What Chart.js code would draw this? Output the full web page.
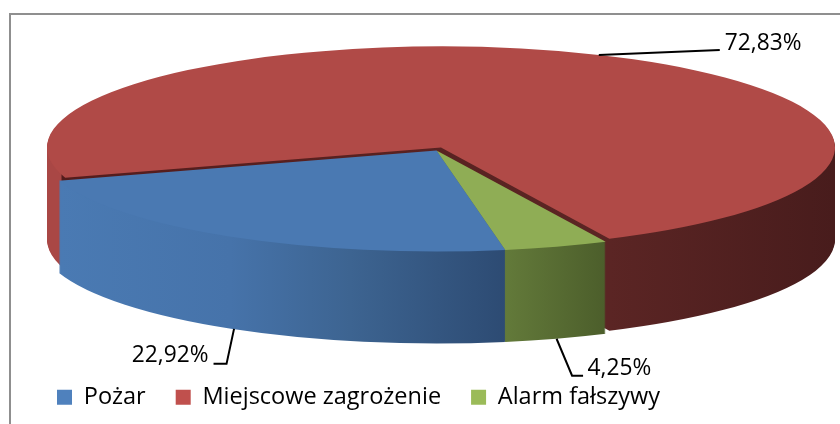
<!DOCTYPE html>
<html>
<head>
<meta charset="utf-8">
<style>
html,body{margin:0;padding:0;background:#fff;}
#wrap{position:relative;width:840px;height:424px;}
canvas{display:block;}
</style>
<script src="https://cdn.jsdelivr.net/npm/chart.js@4/dist/chart.umd.min.js"></script>
</head>
<body>
<div id="wrap"><canvas id="c" width="840" height="424"></canvas></div>
<script>
const categories = ["Pożar", "Miejscowe zagrożenie", "Alarm fałszywy"];
const values = [22.92, 72.83, 4.25];
const topColors = ["#4a79b2", "#b04a47", "#8fad55"];
const legendColors = ["#4f81bd", "#c0504d", "#9bbb59"];

const FONT = '"Open Sans", sans-serif';
const DEPTH = 92;
// ellipse of each slice on screen: centre and radii
const ellipses = [
  {cx: 436.5, cy: 150.5, rx: 396, ry: 101},
  {cx: 441, cy: 147.5, rx: 394, ry: 101},
  {cx: 436.5, cy: 150.5, rx: 396, ry: 101}
];
// wall gradients, as [screen x, colour]
const wallStops = [
  [[60, "#4a7ab3"], [230, "#4673aa"], [350, "#3d6491"], [505, "#2d4b73"]],
  [[47, "#a94745"], [61, "#a94745"], [62, "#541c1c"], [609, "#5b2524"], [835, "#481c1c"]],
  [[505, "#637a3a"], [605, "#4c5e2b"]]
];
// label layout relative to the slice's mid-angle rim point
const labelLayout = [
  {onWall: true,  start: [3, 0], elbow: [[-4.5, 35], [-17.5, 35]], text: [-22.5, 27], align: "right"},
  {onWall: false, start: [0, 0], elbow: [[121, -5]],               text: [126, -11],  align: "left"},
  {onWall: true,  start: [0, 0], elbow: [[15.5, 37], [26.5, 37]],  text: [31, 30],    align: "left"}
];

function place(ctx, arc, e, dy) {
  const s = arc.outerRadius;
  ctx.translate(e.cx, e.cy + dy);
  ctx.scale(e.rx / s, e.ry / s);
  ctx.translate(-arc.x, -arc.y);
}

function wallGradient(ctx, arc, i) {
  const e = ellipses[i], stops = wallStops[i];
  const toArc = X => arc.x + (X - e.cx) * arc.outerRadius / e.rx;
  const x0 = stops[0][0], x1 = stops[stops.length - 1][0];
  const g = ctx.createLinearGradient(toArc(x0), 0, toArc(x1), 0);
  stops.forEach(s => g.addColorStop((s[0] - x0) / (x1 - x0), s[1]));
  return g;
}

function drawSlice(ctx, arc, i, dy, fill) {
  const saved = arc.options;
  arc.options = Object.assign({}, saved, {backgroundColor: fill, borderWidth: 0});
  ctx.save();
  place(ctx, arc, ellipses[i], dy);
  arc.draw(ctx);
  ctx.restore();
  arc.options = saved;
}

const pie3d = {
  id: "pie3d",
  beforeDraw(chart) {
    const ctx = chart.ctx;
    ctx.save();
    ctx.strokeStyle = "#8f8f8f";
    ctx.lineWidth = 2;
    ctx.beginPath();
    ctx.moveTo(10, chart.height);
    ctx.lineTo(10, 14);
    ctx.lineTo(chart.width, 14);
    ctx.stroke();
    ctx.restore();
  },
  beforeDatasetsDraw(chart) {
    const ctx = chart.ctx;
    const arcs = chart.getDatasetMeta(0).data;
    const wall = i => {
      const g = wallGradient(ctx, arcs[i], i);
      for (let d = DEPTH; d >= 1; d--) drawSlice(ctx, arcs[i], i, d, g);
    };
    wall(1);
    drawSlice(ctx, arcs[1], 1, 0, topColors[1]);
    wall(2);
    wall(0);
    drawSlice(ctx, arcs[2], 2, 0, topColors[2]);
    drawSlice(ctx, arcs[0], 0, 0, topColors[0]);

    arcs.forEach((arc, i) => {
      const e = ellipses[i], l = labelLayout[i];
      const mid = (arc.startAngle + arc.endAngle) / 2;
      const ax = e.cx + e.rx * Math.cos(mid);
      const ay = e.cy + e.ry * Math.sin(mid) + (l.onWall ? DEPTH : 0);
      ctx.save();
      ctx.strokeStyle = "#000";
      ctx.lineWidth = 2;
      ctx.lineJoin = "miter";
      ctx.beginPath();
      ctx.moveTo(ax + l.start[0], ay + l.start[1]);
      l.elbow.forEach(p => ctx.lineTo(ax + p[0], ay + p[1]));
      ctx.stroke();
      ctx.fillStyle = "#000";
      ctx.font = "22.75px " + FONT;
      ctx.textAlign = l.align;
      ctx.textBaseline = "middle";
      ctx.fillText(values[i].toFixed(2).replace(".", ",") + "%", ax + l.text[0], ay + l.text[1]);
      ctx.restore();
    });
    return false;
  }
};

new Chart(document.getElementById("c"), {
  type: "pie",
  data: {
    labels: categories,
    datasets: [{data: values, backgroundColor: legendColors, borderWidth: 0}]
  },
  options: {
    responsive: false,
    animation: false,
    rotation: 170,
    layout: {padding: {left: 27, bottom: 5}},
    plugins: {
      tooltip: {enabled: false},
      legend: {
        position: "bottom",
        align: "start",
        labels: {
          boxWidth: 15,
          boxHeight: 15,
          padding: 30,
          color: "#000",
          font: {family: FONT, size: 23.5}
        }
      }
    }
  },
  plugins: [pie3d]
});
</script>
</body>
</html>
